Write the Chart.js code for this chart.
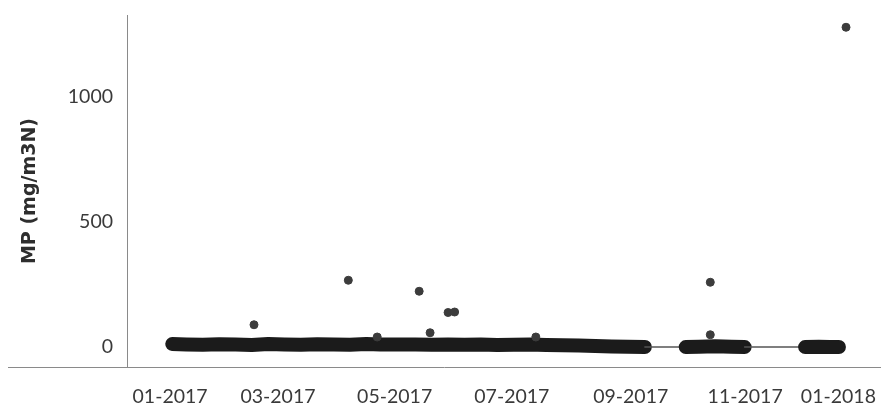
<!DOCTYPE html>
<html>
<head>
<meta charset="utf-8">
<script src="https://cdn.jsdelivr.net/npm/chart.js@4/dist/chart.umd.min.js"></script>
<style>
  html, body { margin: 0; padding: 0; background: #fff; }
  #wrap { width: 881px; height: 409px; }
</style>
</head>
<body>
<div id="wrap"><canvas id="mp-chart"></canvas></div>
<script>
// x values are in months counted from 01-2017
const tickPositions = [0, 1.98, 4.12, 6.27, 8.45, 10.55, 12.26];
const tickLabels = ["01-2017", "03-2017", "05-2017", "07-2017", "09-2017", "11-2017", "01-2018"];
const yTicks = [0, 500, 1000];

// dense daily measurements near zero (drawn as the thick band)
const bandX = [
  0.04, 0.3, 0.6, 0.9, 1.2, 1.5, 1.8, 2.1, 2.4, 2.7, 3.0, 3.3, 3.6, 3.86,
  4.19, 4.5, 4.8, 5.1, 5.4, 5.7, 6.0, 6.3, 6.6, 6.9, 7.2, 7.5, 7.8, 8.1, 8.4, 8.71,
  9.46, 9.7, 10.0, 10.3, 10.54,
  11.65, 11.9, 12.1, 12.27
];
const bandY = [
  12, 10, 9, 11, 10, 8, 12, 10, 9, 11, 10, 9, 12, 10,
  10, 10, 9, 10, 9, 10, 8, 9, 10, 8, 7, 6, 4, 2, 1, 0,
  0, 1, 3, 1, 0,
  0, 1, 0, 0
];

// isolated high readings
const peakX = [1.54, 3.27, 3.8, 4.57, 4.77, 5.1, 5.22, 6.71, 9.91, 9.91, 12.4];
const peakY = [89, 267, 40, 223, 57, 138, 140, 40, 259, 49, 1279];

const FONT = "Lato, 'Open Sans', sans-serif";

function toPoints(xs, ys) {
  return xs.map((x, i) => ({ x: x, y: ys[i] }));
}

const axisLines = {
  id: "axisLines",
  afterDraw(chart) {
    const ctx = chart.ctx;
    const a = chart.chartArea;
    ctx.save();
    ctx.strokeStyle = "#8a8a8a";
    ctx.lineWidth = 1;
    ctx.beginPath();
    ctx.moveTo(a.left + 0.5, a.top);
    ctx.lineTo(a.left + 0.5, a.bottom + 1);
    ctx.moveTo(8, a.bottom + 0.5);
    ctx.lineTo(chart.width, a.bottom + 0.5);
    ctx.stroke();
    ctx.restore();
  },
};

function initChart() {
  const canvas = document.getElementById("mp-chart");

  const cfg = {
    type: "scatter",
    data: {
      datasets: [
        {
          label: "MP peaks",
          data: toPoints(peakX, peakY),
          backgroundColor: "#3c3c3c",
          borderColor: "#3c3c3c",
          pointRadius: 4,
          pointHoverRadius: 4,
        },
        {
          label: "MP",
          type: "line",
          data: toPoints(bandX, bandY),
          showLine: true,
          borderColor: "#1b1b1b",
          borderWidth: 14,
          borderCapStyle: "round",
          borderJoinStyle: "round",
          pointRadius: 0,
          tension: 0,
          segment: {
            borderWidth: (c) => (c.p1.parsed.x - c.p0.parsed.x > 0.4 ? 1.5 : 14),
            borderColor: (c) => (c.p1.parsed.x - c.p0.parsed.x > 0.4 ? "#555" : "#1b1b1b"),
          },
        },
      ],
    },
    options: {
      responsive: true,
      maintainAspectRatio: false,
      animation: false,
      layout: { padding: { top: 15, right: 3, left: 0, bottom: 0 } },
      plugins: {
        legend: { display: false },
        tooltip: { enabled: false },
      },
      scales: {
        x: {
          type: "linear",
          min: -0.79,
          max: 12.95,
          grid: { display: false, drawTicks: false },
          border: { display: false },
          afterBuildTicks: (scale) => {
            scale.ticks = tickPositions.map((v) => ({ value: v }));
          },
          afterFit: (scale) => {
            scale.height = 42;
            scale.paddingLeft = 0;
            scale.paddingRight = 0;
          },
          ticks: {
            padding: 18,
            autoSkip: false,
            maxRotation: 0,
            color: "#3a3a3a",
            font: { family: FONT, size: 19.5 },
            callback: (v) => {
              const i = tickPositions.indexOf(v);
              return i >= 0 ? tickLabels[i] : "";
            },
          },
        },
        y: {
          min: -80,
          max: 1328,
          grid: { display: false, drawTicks: false },
          border: { display: false },
          afterBuildTicks: (scale) => {
            scale.ticks = yTicks.map((v) => ({ value: v }));
          },
          afterFit: (scale) => {
            scale.width = 127;
            scale.paddingTop = 0;
            scale.paddingBottom = 0;
          },
          ticks: {
            padding: 14,
            color: "#3a3a3a",
            font: { family: FONT, size: 19.5 },
            callback: (v) => String(v),
          },
          title: {
            display: true,
            text: "MP (mg/m3N)",
            color: "#2e2e2e",
            font: { family: "'DejaVu Sans', sans-serif", size: 19, weight: "bold" },
            padding: { top: 19, bottom: 0 },
          },
        },
      },
    },
    plugins: [axisLines],
  };

  new Chart(canvas, cfg);
}

document.addEventListener("DOMContentLoaded", initChart);
</script>
</body>
</html>
